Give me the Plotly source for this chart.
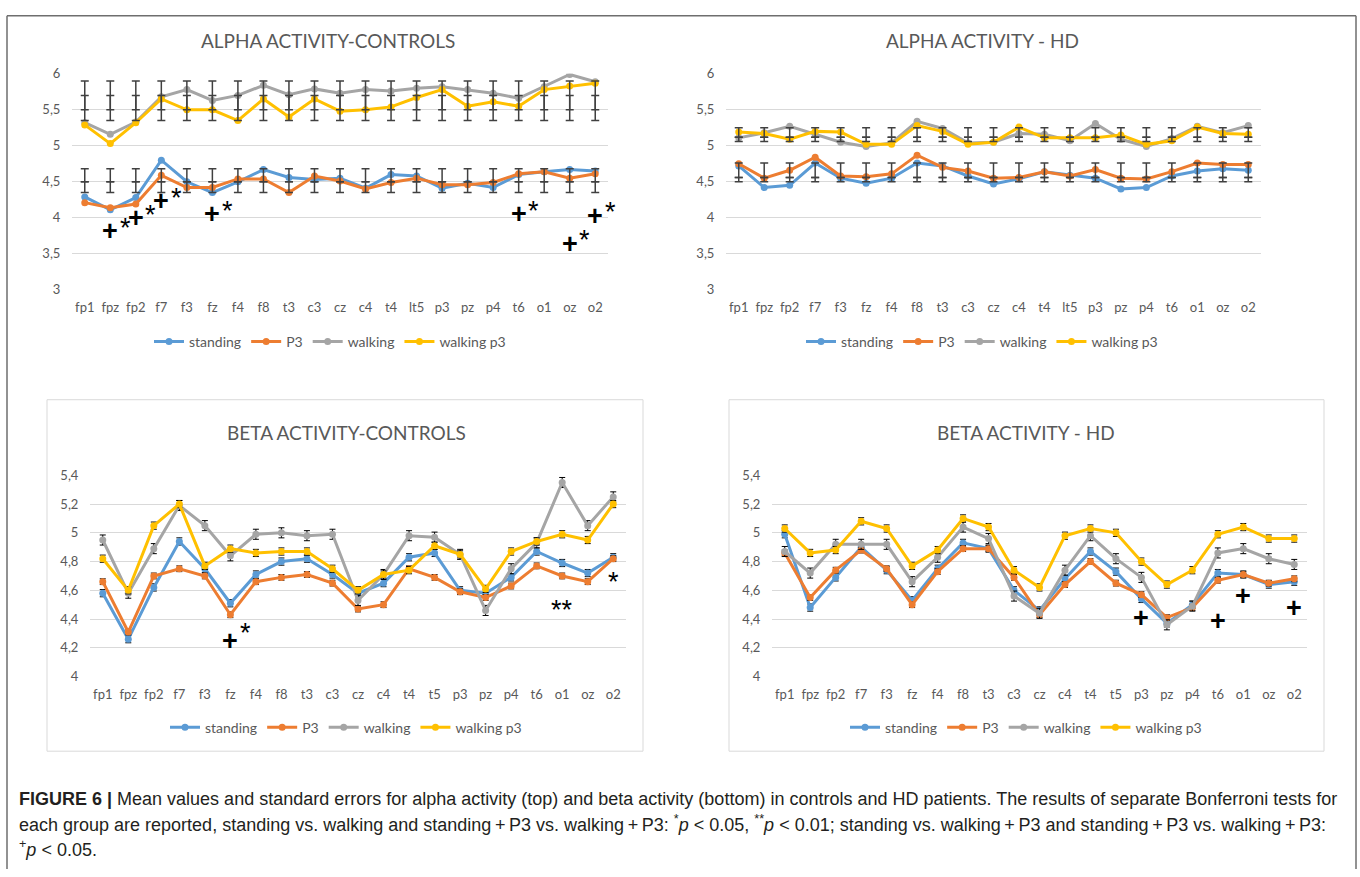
import plotly.graph_objects as go

W, H = 1360, 877

# ---- categories ----
ELEC_ALPHA = ['fp1', 'fpz', 'fp2', 'f7', 'f3', 'fz', 'f4', 'f8', 't3', 'c3', 'cz',
              'c4', 't4', 'lt5', 'p3', 'pz', 'p4', 't6', 'o1', 'oz', 'o2']
ELEC_BETA = ['fp1', 'fpz', 'fp2', 'f7', 'f3', 'fz', 'f4', 'f8', 't3', 'c3', 'cz',
             'c4', 't4', 't5', 'p3', 'pz', 'p4', 't6', 'o1', 'oz', 'o2']

SERIES = ['standing', 'P3', 'walking', 'walking p3']
COLORS = ['#5B9BD5', '#ED7D31', '#A5A5A5', '#FFC000']

# ---- alpha, controls ----
alpha_ctrl_standing = [4.29, 4.11, 4.28, 4.80, 4.50, 4.35, 4.50, 4.67, 4.56, 4.53, 4.55,
                       4.41, 4.60, 4.58, 4.41, 4.48, 4.42, 4.60, 4.64, 4.67, 4.65]
alpha_ctrl_p3 = [4.21, 4.14, 4.19, 4.59, 4.42, 4.42, 4.54, 4.54, 4.35, 4.58, 4.51,
                 4.40, 4.49, 4.55, 4.46, 4.46, 4.49, 4.61, 4.64, 4.55, 4.61]
alpha_ctrl_walking = [5.32, 5.16, 5.33, 5.68, 5.78, 5.63, 5.70, 5.84, 5.71, 5.79, 5.73,
                      5.78, 5.76, 5.80, 5.82, 5.78, 5.73, 5.66, 5.82, 5.99, 5.89]
alpha_ctrl_walking_p3 = [5.29, 5.03, 5.32, 5.65, 5.50, 5.50, 5.35, 5.65, 5.40, 5.65, 5.48,
                         5.50, 5.54, 5.67, 5.78, 5.55, 5.61, 5.55, 5.78, 5.83, 5.87]
# error bar segments (low, high) drawn at every electrode
alpha_ctrl_err = [(5.50, 5.90), (5.35, 5.70), (4.50, 4.68), (4.35, 4.50)]
alpha_ctrl_sig = [('fpz', 3.81), ('fp2', 3.99), ('f7', 4.23), ('fz', 4.05),
                  ('t6', 4.05), ('oz', 3.64), ('o2', 4.03)]

# ---- alpha, HD ----
alpha_hd_standing = [4.72, 4.42, 4.45, 4.76, 4.55, 4.48, 4.55, 4.76, 4.72, 4.58, 4.47,
                     4.54, 4.64, 4.59, 4.55, 4.40, 4.42, 4.58, 4.65, 4.68, 4.66]
alpha_hd_p3 = [4.75, 4.55, 4.66, 4.84, 4.58, 4.57, 4.61, 4.87, 4.70, 4.65, 4.55,
               4.56, 4.64, 4.58, 4.67, 4.55, 4.54, 4.64, 4.76, 4.74, 4.74]
alpha_hd_walking = [5.11, 5.18, 5.27, 5.16, 5.05, 4.99, 5.04, 5.34, 5.24, 5.04, 5.05,
                    5.17, 5.16, 5.07, 5.31, 5.09, 4.99, 5.10, 5.27, 5.18, 5.28]
alpha_hd_walking_p3 = [5.19, 5.17, 5.09, 5.20, 5.19, 5.02, 5.02, 5.28, 5.20, 5.02, 5.05,
                       5.26, 5.11, 5.11, 5.11, 5.15, 5.02, 5.07, 5.26, 5.17, 5.16]
alpha_hd_err = [(5.12, 5.25), (5.06, 5.12), (4.56, 4.76), (4.50, 4.56)]

# ---- beta, controls ----
beta_ctrl_standing = [4.58, 4.26, 4.62, 4.94, 4.75, 4.51, 4.71, 4.80, 4.82, 4.71, 4.58,
                      4.65, 4.83, 4.86, 4.60, 4.58, 4.69, 4.87, 4.79, 4.72, 4.83]
beta_ctrl_p3 = [4.66, 4.31, 4.70, 4.75, 4.70, 4.43, 4.66, 4.69, 4.71, 4.65, 4.47,
                4.50, 4.75, 4.69, 4.59, 4.55, 4.63, 4.77, 4.70, 4.66, 4.82]
beta_ctrl_walking = [4.95, 4.58, 4.89, 5.19, 5.05, 4.84, 4.99, 5.00, 4.98, 4.99, 4.53,
                     4.71, 4.98, 4.97, 4.85, 4.46, 4.75, 4.93, 5.35, 5.05, 5.25]
beta_ctrl_walking_p3 = [4.82, 4.60, 5.05, 5.20, 4.77, 4.89, 4.86, 4.87, 4.87, 4.75, 4.60,
                        4.71, 4.74, 4.91, 4.85, 4.61, 4.87, 4.94, 4.99, 4.95, 5.20]
# (electrode, y of the plus, y of the star(s), plus?, stars)
beta_ctrl_sig = [('fz', 4.25, 4.30, True, '*'), ('o1', None, 4.46, False, '**'),
                 ('o2', None, 4.66, False, '*')]

# ---- beta, HD ----
beta_hd_standing = [4.99, 4.48, 4.69, 4.90, 4.74, 4.53, 4.75, 4.93, 4.89, 4.60, 4.46,
                    4.68, 4.87, 4.73, 4.54, 4.37, 4.50, 4.72, 4.71, 4.64, 4.66]
beta_hd_p3 = [4.86, 4.55, 4.74, 4.88, 4.75, 4.50, 4.73, 4.89, 4.89, 4.69, 4.43,
              4.64, 4.80, 4.65, 4.57, 4.41, 4.48, 4.67, 4.71, 4.65, 4.68]
beta_hd_walking = [4.87, 4.72, 4.92, 4.92, 4.92, 4.66, 4.83, 5.04, 4.96, 4.56, 4.44,
                   4.74, 4.98, 4.82, 4.69, 4.36, 4.49, 4.86, 4.89, 4.82, 4.78]
beta_hd_walking_p3 = [5.03, 4.86, 4.88, 5.08, 5.03, 4.77, 4.88, 5.10, 5.04, 4.74, 4.62,
                      4.98, 5.03, 5.00, 4.80, 4.64, 4.74, 4.99, 5.04, 4.96, 4.96]
beta_hd_sig = [('p3', 4.41), ('t6', 4.39), ('o1', 4.56), ('o2', 4.48)]

# standard errors for the beta panels (standing, P3, walking, walking p3)
beta_se = [0.025, 0.02, 0.035, 0.025]

GREY_TXT = '#595959'
FONT = 'Lato'
MARK_FONT = dict(family='Liberation Sans', size=27, color='#000000')


def fx(px):
    return px / W


def fy(py):
    return 1 - py / H


fig = go.Figure()

# panel geometry in pixels: (x0, x1, y_top, y_bottom)
panels = [
    dict(name='ALPHA ACTIVITY-CONTROLS', box=(72, 608, 67, 287), cats=ELEC_ALPHA,
         data=[alpha_ctrl_standing, alpha_ctrl_p3, alpha_ctrl_walking, alpha_ctrl_walking_p3],
         yr=[3, 6], dtick=0.5, title_xy=(328, 33), legend_xy=(330, 340)),
    dict(name='ALPHA ACTIVITY - HD', box=(726, 1261, 67, 287), cats=ELEC_ALPHA,
         data=[alpha_hd_standing, alpha_hd_p3, alpha_hd_walking, alpha_hd_walking_p3],
         yr=[3, 6], dtick=0.5, title_xy=(982, 33), legend_xy=(982, 340)),
    dict(name='BETA ACTIVITY-CONTROLS', box=(90, 626, 476, 681), cats=ELEC_BETA,
         data=[beta_ctrl_standing, beta_ctrl_p3, beta_ctrl_walking, beta_ctrl_walking_p3],
         yr=[4, 5.4], dtick=0.2, title_xy=(346, 432), legend_xy=(346, 733)),
    dict(name='BETA ACTIVITY - HD', box=(772, 1307, 476, 681), cats=ELEC_BETA,
         data=[beta_hd_standing, beta_hd_p3, beta_hd_walking, beta_hd_walking_p3],
         yr=[4, 5.4], dtick=0.2, title_xy=(1026, 432), legend_xy=(1026, 733)),
]

layout_axes = {}
annotations = []
for i, p in enumerate(panels):
    n = '' if i == 0 else str(i + 1)
    x0, x1, yt, yb = p['box']
    layout_axes['xaxis' + n] = dict(
        domain=[fx(x0), fx(x1)], anchor='y' + n, type='category',
        categoryorder='array', categoryarray=p['cats'], range=[-0.5, 20.5],
        showgrid=False, showline=False, zeroline=False,
        ticks='outside', ticklen=6, tickcolor='rgba(0,0,0,0)',
        tickfont=dict(family=FONT, size=13, color=GREY_TXT), fixedrange=True)
    layout_axes['yaxis' + n] = dict(
        domain=[fy(yb), fy(yt)], anchor='x' + n, range=p['yr'], dtick=p['dtick'],
        showgrid=True, gridcolor='#D9D9D9', gridwidth=1, zeroline=False, showline=False,
        ticks='outside', ticklen=8, tickcolor='rgba(0,0,0,0)',
        tickfont=dict(family=FONT, size=13, color=GREY_TXT), fixedrange=True)
    leg = 'legend' + n
    layout_axes[leg] = dict(
        orientation='h', xanchor='center', yanchor='middle',
        x=fx(p['legend_xy'][0]), y=fy(p['legend_xy'][1]),
        font=dict(family=FONT, size=14, color=GREY_TXT), itemwidth=30,
        bgcolor='rgba(0,0,0,0)', traceorder='normal')

    is_beta = i >= 2
    for k, (sname, col) in enumerate(zip(SERIES, COLORS)):
        err = None
        if is_beta:
            err = dict(type='constant', value=beta_se[k], color='#000000',
                       thickness=1, width=3)
        fig.add_trace(go.Scatter(
            x=p['cats'], y=p['data'][k], name=sname, mode='lines+markers',
            line=dict(color=col, width=3), marker=dict(color=col, size=7),
            error_y=err, xaxis='x' + n, yaxis='y' + n, legend=leg,
            showlegend=True, hoverinfo='skip'))

    annotations.append(dict(
        text=p['name'], x=fx(p['title_xy'][0]), y=fy(p['title_xy'][1]),
        xref='paper', yref='paper', xanchor='center', yanchor='middle',
        showarrow=False, font=dict(family=FONT, size=19, color=GREY_TXT)))

# fixed error bars of the alpha panels
for n, segs in (('', alpha_ctrl_err), ('2', alpha_hd_err)):
    for lo, hi in segs:
        fig.add_trace(go.Scatter(
            x=ELEC_ALPHA, y=[lo] * len(ELEC_ALPHA), mode='markers',
            marker=dict(size=1, color='rgba(0,0,0,0)'),
            error_y=dict(type='data', symmetric=False, array=[hi - lo] * len(ELEC_ALPHA),
                         arrayminus=[0] * len(ELEC_ALPHA), color='#404040',
                         thickness=1.5, width=4),
            xaxis='x' + n, yaxis='y' + n, showlegend=False, hoverinfo='skip'))


def plus(cat, yv, ax):
    annotations.append(dict(text='<b>+</b>', x=cat, y=yv, xref='x' + ax, yref='y' + ax,
                            xanchor='center', yanchor='middle', showarrow=False,
                            font=MARK_FONT))


def star(cat, yv, ax, txt='*', xshift=0):
    annotations.append(dict(text=txt, x=cat, y=yv, xref='x' + ax, yref='y' + ax,
                            xanchor='center', yanchor='middle', showarrow=False,
                            xshift=xshift, font=MARK_FONT))


# significance marks
for cat, yv in alpha_ctrl_sig:
    plus(cat, yv, '')
    star(cat, yv + 0.05, '', xshift=15)
for cat, yp, ys, has_plus, txt in beta_ctrl_sig:
    if has_plus:
        plus(cat, yp, '3')
        star(cat, ys, '3', txt, xshift=15)
    else:
        star(cat, ys, '3', txt)
for cat, yv in beta_hd_sig:
    plus(cat, yv, '4')

# caption
pl = '\u2009+\u2009'
caption = [
    '<b>FIGURE 6 |</b> Mean values and standard errors for alpha activity (top) and beta '
    'activity (bottom) in controls and HD patients. The results of separate Bonferroni tests for',
    f'each group are reported, standing vs. walking and standing{pl}P3 vs. walking{pl}P3: '
    f'<sup>*</sup><i>p</i> &lt; 0.05, <sup>**</sup><i>p</i> &lt; 0.01; standing vs. walking{pl}P3 '
    f'and standing{pl}P3 vs. walking{pl}P3:',
    '<sup>+</sup><i>p</i> &lt; 0.05.',
]
for j, line in enumerate(caption):
    annotations.append(dict(text=line, x=fx(17), y=fy(806 + 25 * j), xref='paper',
                            yref='paper', xanchor='left', yanchor='middle',
                            showarrow=False,
                            font=dict(family='Liberation Sans', size=18, color='#231F20')))

shapes = [
    # outer frame
    dict(type='line', xref='paper', yref='paper', x0=fx(7), x1=fx(1356), y0=fy(8), y1=fy(8),
         line=dict(color='#6E6E6E', width=1.5)),
    dict(type='line', xref='paper', yref='paper', x0=fx(7), x1=fx(7), y0=fy(8), y1=0,
         line=dict(color='#6E6E6E', width=1.5)),
    dict(type='line', xref='paper', yref='paper', x0=fx(1356), x1=fx(1356), y0=fy(8), y1=0,
         line=dict(color='#6E6E6E', width=1.5)),
    # frames of the lower charts
    dict(type='rect', xref='paper', yref='paper', x0=fx(47), x1=fx(643), y0=fy(757), y1=fy(399),
         line=dict(color='#D9D9D9', width=1)),
    dict(type='rect', xref='paper', yref='paper', x0=fx(729), x1=fx(1324), y0=fy(757), y1=fy(399),
         line=dict(color='#D9D9D9', width=1)),
]

fig.update_layout(
    width=W, height=H, margin=dict(l=0, r=0, t=0, b=0),
    paper_bgcolor='white', plot_bgcolor='white', separators=', ',
    annotations=annotations, shapes=shapes, **layout_axes)

# the page body has a default margin; remove it so the figure sits at the window's corner
fig.write_html("out.html", config={'displayModeBar': False},
               post_script="document.body.style.margin='0px';")
